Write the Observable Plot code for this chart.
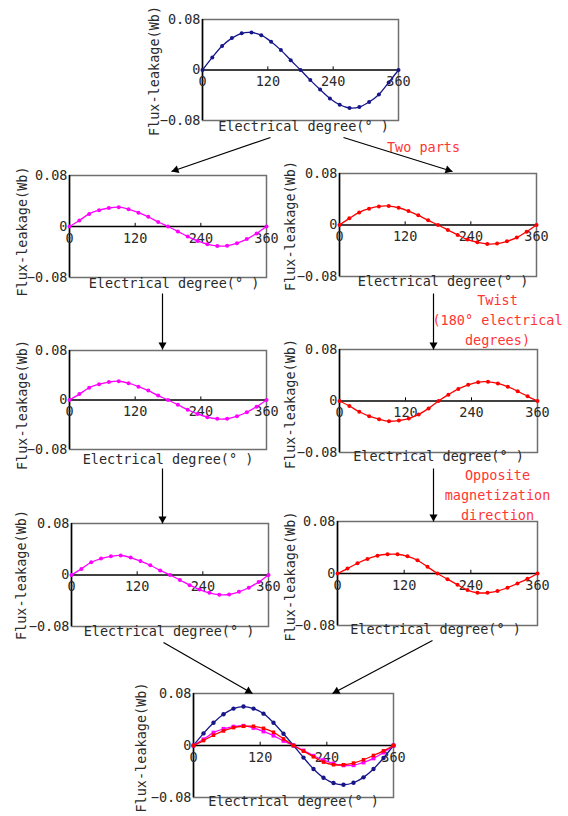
<!DOCTYPE html>
<html>
<head>
<meta charset="utf-8">
<script src="https://cdn.jsdelivr.net/npm/d3@7"></script>
<script src="https://cdn.jsdelivr.net/npm/@observablehq/plot@0.6"></script>
<style>
  body { margin: 0; background: #fff; }
  #root { position: relative; width: 568px; height: 816px; overflow: hidden; background: #fff; }
  #root > .panel, #root > .overlay { position: absolute; }
</style>
</head>
<body>
<div id="root"></div>
<script>
// ---------- data ----------
const degrees = [0, 18, 36, 54, 72, 90, 108, 126, 144, 162, 180, 198, 216, 234, 252, 270, 288, 306, 324, 342, 360];
const xTicks = [0, 120, 240, 360];
const yTicks = [-0.08, 0, 0.08];
const yTickLabels = ["\u22120.08", "0", "0.08"];
const xLabel = "Electrical degree(\u00b0 )";
const yLabel = "Flux-leakage(Wb)";

const fluxOriginal = [0, 0.0200, 0.0380, 0.0505, 0.0582, 0.0594, 0.0552, 0.0448, 0.0315, 0.0155, 0, -0.0160, -0.0310, -0.0450, -0.0550, -0.0602, -0.0588, -0.0508, -0.0388, -0.0198, 0];
const fluxOriginalSum = [0, 0.0186, 0.0351, 0.0480, 0.0568, 0.0599, 0.0568, 0.0490, 0.0351, 0.0180, 0, -0.0186, -0.0361, -0.0495, -0.0578, -0.0604, -0.0573, -0.0490, -0.0361, -0.0191, 0];
const fluxHalf = [0, 0.0095, 0.0198, 0.0256, 0.0290, 0.0303, 0.0271, 0.0216, 0.0152, 0.0071, 0, -0.0077, -0.0158, -0.0226, -0.0277, -0.0305, -0.0303, -0.0261, -0.0198, -0.0108, 0];
const fluxTwoParts = [0, 0.0103, 0.0196, 0.0253, 0.0289, 0.0294, 0.0268, 0.0217, 0.0150, 0.0072, 0, -0.0077, -0.0155, -0.0227, -0.0268, -0.0294, -0.0289, -0.0253, -0.0196, -0.0103, 0];
const fluxTwisted = [0, -0.0078, -0.0167, -0.0235, -0.0282, -0.0314, -0.0303, -0.0272, -0.0209, -0.0115, 0, 0.0099, 0.0188, 0.0251, 0.0293, 0.0298, 0.0272, 0.0220, 0.0152, 0.0073, 0];
const fluxOpposite = [0, 0.0076, 0.0158, 0.0224, 0.0275, 0.0296, 0.0296, 0.0265, 0.0204, 0.0102, 0, -0.0087, -0.0173, -0.0255, -0.0296, -0.0296, -0.0270, -0.0219, -0.0153, -0.0082, 0];

const noteTwoParts = ["Two parts"];
const noteTwist = ["Twist", "(180\u00b0 electrical", "degrees)"];
const noteOpposite = ["Opposite", "magnetization", "direction"];

// ---------- styles / layout ----------
const FONT = "'DejaVu Sans Mono', monospace";
const NAVY = "#16168a", MAGENTA = "#ff00ff", RED = "#ff0000", NOTE = "#ff3535", INK = "#2a2a2a";

const sNavy = v => ({values: v, color: NAVY, symbol: "circle", r: 2});
const sMag = v => ({values: v, color: MAGENTA, symbol: "circle", r: 2});
const sRed = v => ({values: v, color: RED, symbol: "circle", r: 2});

// frame: [left, top, width, height]; xl: x-label offset; yl: y-label offset
const panels = [
  {frame: [202, 19, 196, 101], xl: [3, 10], yl: [-48, 1], series: [sNavy(fluxOriginal)]},
  {frame: [69, 175, 197, 102], xl: [6, 10], yl: [-47, 5], series: [sMag(fluxHalf)]},
  {frame: [339, 173, 197, 103], xl: [5, 9], yl: [-49, 1], series: [sRed(fluxTwoParts)]},
  {frame: [69, 350, 197, 99], xl: [0, 14], yl: [-47, 5], series: [sMag(fluxHalf)]},
  {frame: [339, 349, 198, 103], xl: [0, 8], yl: [-49, 3], series: [sRed(fluxTwisted)]},
  {frame: [71, 523, 197, 103], xl: [-1, 9], yl: [-50, 0], series: [sMag(fluxHalf)]},
  {frame: [337, 521, 200, 104], xl: [-2, 8], yl: [-47, 3], series: [sRed(fluxOpposite)]},
  {frame: [193, 693, 200, 104], xl: [0, 8], yl: [-52, 2], series: [
    {values: fluxOriginalSum, color: NAVY, symbol: "circle", r: 2.2},
    {values: fluxHalf, color: MAGENTA, symbol: "square", r: 2.2},
    {values: fluxOpposite, color: RED, symbol: "square", r: 2}
  ]}
];

const arrows = [
  {x1: 270, y1: 137, x2: 171, y2: 171},
  {x1: 343, y1: 137, x2: 452, y2: 171},
  {x1: 162, y1: 293, x2: 162, y2: 349},
  {x1: 433, y1: 293, x2: 433, y2: 349},
  {x1: 162, y1: 468, x2: 162, y2: 523},
  {x1: 433, y1: 468, x2: 433, y2: 521},
  {x1: 163, y1: 642, x2: 252, y2: 693},
  {x1: 432, y1: 640, x2: 332, y2: 693}
];
const noteBlocks = [
  {lines: noteTwoParts, x: 423, y: 147},
  {lines: noteTwist, x: 497, y: 300},
  {lines: noteOpposite, x: 497, y: 475}
];

// ---------- drawing ----------
const root = document.getElementById("root");
const mL = 64, mR = 18, mT = 12, mB = 28;

for (const p of panels) {
  const [left, top, w, h] = p.frame;
  const marks = [
    Plot.frame({stroke: "#6f6f6f", strokeWidth: 1.5}),
    Plot.ruleX([0], {stroke: "#000", strokeWidth: 1.5}),
    Plot.ruleY([0], {stroke: "#000", strokeWidth: 1.3}),
    Plot.ruleX([120, 240], {y1: 0, y2: 0.005, stroke: "#000", strokeWidth: 1}),
    Plot.text(yTicks, {x: 0, y: d => d, text: (d, i) => yTickLabels[i], textAnchor: "end", dx: -2, fill: INK, fontSize: 13.5}),
    Plot.text(xTicks, {x: d => d, y: 0, text: d => String(d), dy: 12, fill: INK, fontSize: 13.5}),
    Plot.text([xLabel], {frameAnchor: "bottom", textAnchor: "middle", dx: p.xl[0], dy: p.xl[1], fill: INK, fontSize: 13.5}),
    Plot.text([yLabel], {frameAnchor: "left", textAnchor: "middle", rotate: -90, dx: p.yl[0], dy: p.yl[1], fill: INK, fontSize: 13.5})
  ];
  for (const s of p.series) {
    const rows = degrees.map((d, i) => ({deg: d, flux: s.values[i]}));
    marks.push(Plot.line(rows, {x: "deg", y: "flux", stroke: s.color, strokeWidth: 1.3, curve: "catmull-rom"}));
    marks.push(Plot.dot(rows, {x: "deg", y: "flux", fill: s.color, stroke: "none", r: s.r, symbol: s.symbol}));
  }
  const chart = Plot.plot({
    width: w + mL + mR, height: h + mT + mB,
    marginLeft: mL, marginRight: mR, marginTop: mT, marginBottom: mB,
    x: {domain: [0, 360], axis: null},
    y: {domain: [-0.08, 0.08], axis: null},
    style: {background: "transparent", fontFamily: FONT, fontSize: "13.5px", overflow: "visible"},
    marks
  });
  chart.classList.add("panel");
  chart.style.left = (left - mL) + "px";
  chart.style.top = (top - mT) + "px";
  root.appendChild(chart);
}

// overlay: arrows and red annotations
const headR = 3;
const headOffset = 2 * Math.sqrt((Math.PI * headR * headR) / (3 * Math.sqrt(3)));
const heads = arrows.map(a => {
  const dx = a.x2 - a.x1, dy = a.y2 - a.y1, len = Math.hypot(dx, dy);
  return {
    x: a.x2 - dx / len * headOffset,
    y: a.y2 - dy / len * headOffset,
    rot: Math.atan2(dx, -dy) * 180 / Math.PI
  };
});
const noteRows = noteBlocks.flatMap(b => b.lines.map((t, i) => ({text: t, x: b.x, y: b.y + i * 20})));

const overlay = Plot.plot({
  width: 568, height: 816, margin: 0,
  x: {type: "identity", axis: null},
  y: {type: "identity", axis: null},
  style: {background: "transparent", fontFamily: FONT, fontSize: "13.5px", overflow: "visible"},
  marks: [
    Plot.link(arrows, {x1: "x1", y1: "y1", x2: "x2", y2: "y2", stroke: "#000", strokeWidth: 1.2}),
    Plot.dot(heads, {x: "x", y: "y", rotate: "rot", symbol: "triangle", r: headR, fill: "#000", stroke: "none"}),
    Plot.text(noteRows, {x: "x", y: "y", text: "text", fill: NOTE, fontSize: 13.5})
  ]
});
overlay.classList.add("overlay");
overlay.style.left = "0px";
overlay.style.top = "0px";
overlay.style.pointerEvents = "none";
root.appendChild(overlay);
</script>
</body>
</html>
